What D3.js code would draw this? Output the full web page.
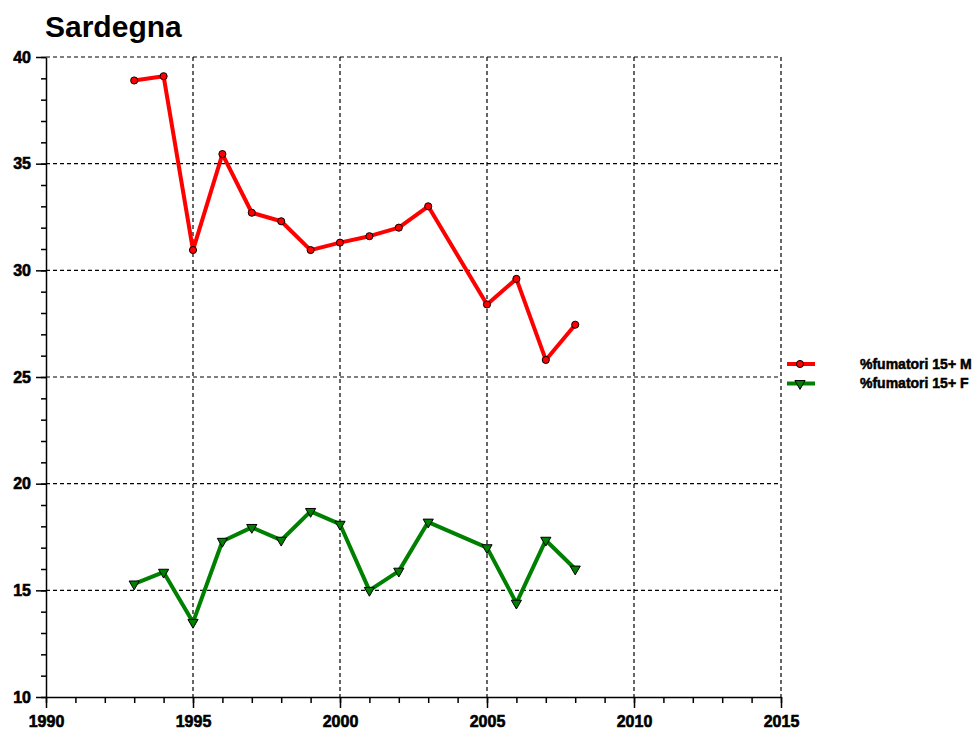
<!DOCTYPE html>
<html>
<head>
<meta charset="utf-8">
<script src="https://cdn.jsdelivr.net/npm/d3@7"></script>
<style>
  body { margin: 0; background: #fff; }
  svg { display: block; }
  text { font-family: "Liberation Sans", Arial, sans-serif; font-weight: bold; }
</style>
</head>
<body>
<div id="chart"></div>
<script>
// values
const years = [1993, 1994, 1995, 1996, 1997, 1998, 1999, 2000, 2001, 2002, 2003, 2005, 2006, 2007, 2008];
const maschi = [38.9, 39.1, 30.95, 35.45, 32.7, 32.3, 30.95, 31.3, 31.6, 32.0, 33.0, 28.4, 29.6, 25.8, 27.45];
const femmine = [15.3, 15.85, 13.5, 17.3, 17.95, 17.35, 18.7, 18.1, 15.0, 15.9, 18.2, 17.0, 14.4, 17.35, 16.0];
const seriesNames = ["%fumatori 15+ M", "%fumatori 15+ F"];
const seriesColors = ["#ff0000", "#008000"];
const xTicks = [1990, 1995, 2000, 2005, 2010, 2015];
const yTicks = [10, 15, 20, 25, 30, 35, 40];

const width = 978, height = 729;
const margin = {top: 57, right: 197, bottom: 32, left: 46};
const visWidth = width - margin.left - margin.right;
const visHeight = height - margin.top - margin.bottom;

const svg = d3.select("#chart")
  .append("svg")
  .attr("width", width)
  .attr("height", height);

svg.append("text")
  .text("Sardegna")
  .attr("x", 45)
  .attr("y", 37)
  .attr("font-size", "30px")
  .attr("fill", "black");

const g = svg.append("g")
  .attr("transform", `translate(${margin.left}, ${margin.top})`);

const x = d3.scaleLinear().domain([1990, 2015]).range([0, visWidth]);
const y = d3.scaleLinear().domain([10, 40]).range([visHeight, 0]);

// grid
g.append("g")
  .selectAll("line")
  .data(xTicks.slice(1))
  .join("line")
    .attr("x1", d => x(d)).attr("x2", d => x(d))
    .attr("y1", 0).attr("y2", visHeight)
    .attr("stroke", "#000")
    .attr("stroke-width", 1.2)
    .attr("stroke-dasharray", "4,3");

g.append("g")
  .selectAll("line")
  .data(yTicks.slice(1))
  .join("line")
    .attr("x1", 0).attr("x2", visWidth)
    .attr("y1", d => y(d)).attr("y2", d => y(d))
    .attr("stroke", "#000")
    .attr("stroke-width", 1.2)
    .attr("stroke-dasharray", "4,3");

// minor ticks
g.append("g")
  .attr("transform", `translate(0, ${visHeight})`)
  .call(d3.axisBottom(x).ticks(25).tickSize(6).tickFormat(""))
  .call(a => a.select(".domain").remove());

g.append("g")
  .call(d3.axisLeft(y).ticks(30).tickSize(5).tickFormat(""))
  .call(a => a.select(".domain").remove());

// major axes
const xAxis = g.append("g")
  .attr("transform", `translate(0, ${visHeight})`)
  .call(d3.axisBottom(x).tickValues(xTicks).tickSize(11).tickSizeOuter(0).tickFormat(d3.format("d")));
xAxis.selectAll("text").attr("font-size", "16px").attr("dy", "0.95em").attr("y", 15);

const yAxis = g.append("g")
  .call(d3.axisLeft(y).tickValues(yTicks).tickSize(10).tickSizeOuter(0));
yAxis.selectAll("text").attr("font-size", "16px").attr("x", -15);

g.selectAll(".domain").attr("stroke", "black").attr("stroke-width", 1.5);
g.selectAll(".tick line").attr("stroke", "black").attr("stroke-width", 1.5);
g.selectAll(".tick text")
  .attr("fill", "black")
  .attr("stroke", "black")
  .attr("stroke-width", 0.6)
  .attr("font-family", "'Liberation Sans', Arial, sans-serif")
  .attr("font-weight", "bold");

// series
const line = d3.line().x(d => x(d[0])).y(d => y(d[1]));
const dataM = years.map((yr, i) => [yr, maschi[i]]);
const dataF = years.map((yr, i) => [yr, femmine[i]]);

g.append("path")
  .datum(dataM)
  .attr("d", line)
  .attr("fill", "none")
  .attr("stroke", seriesColors[0])
  .attr("stroke-width", 4)
  .attr("stroke-linejoin", "round");

g.append("path")
  .datum(dataF)
  .attr("d", line)
  .attr("fill", "none")
  .attr("stroke", seriesColors[1])
  .attr("stroke-width", 4)
  .attr("stroke-linejoin", "round");

const circle = d3.symbol().type(d3.symbolCircle).size(40);
const tri = d3.symbol().type(d3.symbolTriangle).size(45);

g.selectAll(".mM")
  .data(dataM)
  .join("path")
    .attr("class", "mM")
    .attr("d", circle)
    .attr("transform", d => `translate(${x(d[0])}, ${y(d[1])})`)
    .attr("fill", seriesColors[0])
    .attr("stroke", "black")
    .attr("stroke-width", 1);

g.selectAll(".mF")
  .data(dataF)
  .join("path")
    .attr("class", "mF")
    .attr("d", tri)
    .attr("transform", d => `translate(${x(d[0])}, ${y(d[1])}) rotate(180)`)
    .attr("fill", seriesColors[1])
    .attr("stroke", "black")
    .attr("stroke-width", 1);

// legend
const legend = svg.append("g");
seriesNames.forEach((name, i) => {
  const ly = 364 + i * 19.5;
  legend.append("line")
    .attr("x1", 787).attr("x2", 815)
    .attr("y1", ly).attr("y2", ly)
    .attr("stroke", seriesColors[i])
    .attr("stroke-width", 4);
  legend.append("path")
    .attr("d", i === 0 ? circle : tri)
    .attr("transform", `translate(800, ${ly})` + (i === 0 ? "" : " rotate(180)"))
    .attr("fill", seriesColors[i])
    .attr("stroke", "black");
  legend.append("text")
    .text(name)
    .attr("x", 860)
    .attr("y", ly)
    .attr("dy", "0.35em")
    .attr("font-size", "14px")
    .attr("stroke", "black")
    .attr("stroke-width", 0.5)
    .attr("fill", "black");
});
</script>
</body>
</html>
